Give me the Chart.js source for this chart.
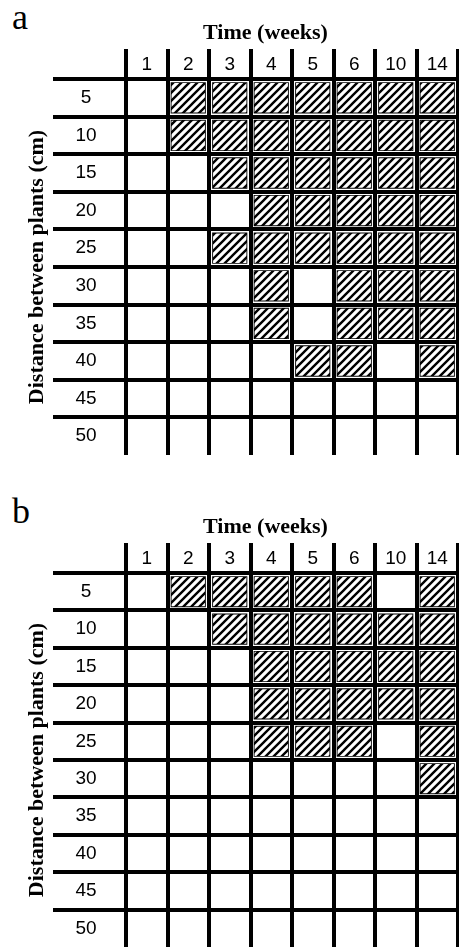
<!DOCTYPE html>
<html>
<head>
<meta charset="utf-8">
<script src="https://cdn.jsdelivr.net/npm/chart.js@4.4.1/dist/chart.umd.min.js"></script>
<style>
  body { margin: 0; background: #fff; }
  canvas { position: absolute; left: 0; }
  .panel { position: absolute; left: 12px; font: 36px/36px "Liberation Serif", serif; color: #000; }
</style>
</head>
<body>
<div class="panel" style="top:-1px">a</div>
<canvas id="chartA" width="459" height="455" style="top:0"></canvas>
<div class="panel" style="top:493px">b</div>
<canvas id="chartB" width="459" height="453" style="top:494px"></canvas>
<script>
const weeks = ["1", "2", "3", "4", "5", "6", "10", "14"];
const distances = ["5", "10", "15", "20", "25", "30", "35", "40", "45", "50"];

// one row per distance, one flag per week (1 = hatched cell)
const cellsA = [
    [0, 1, 1, 1, 1, 1, 1, 1],
    [0, 1, 1, 1, 1, 1, 1, 1],
    [0, 0, 1, 1, 1, 1, 1, 1],
    [0, 0, 0, 1, 1, 1, 1, 1],
    [0, 0, 1, 1, 1, 1, 1, 1],
    [0, 0, 0, 1, 0, 1, 1, 1],
    [0, 0, 0, 1, 0, 1, 1, 1],
    [0, 0, 0, 0, 1, 1, 0, 1],
    [0, 0, 0, 0, 0, 0, 0, 0],
    [0, 0, 0, 0, 0, 0, 0, 0]
];
const cellsB = [
    [0, 1, 1, 1, 1, 1, 0, 1],
    [0, 0, 1, 1, 1, 1, 1, 1],
    [0, 0, 0, 1, 1, 1, 1, 1],
    [0, 0, 0, 1, 1, 1, 1, 1],
    [0, 0, 0, 1, 1, 1, 0, 1],
    [0, 0, 0, 0, 0, 0, 0, 1],
    [0, 0, 0, 0, 0, 0, 0, 0],
    [0, 0, 0, 0, 0, 0, 0, 0],
    [0, 0, 0, 0, 0, 0, 0, 0],
    [0, 0, 0, 0, 0, 0, 0, 0]
];

const xTitle = "Time (weeks)";
const yTitle = "Distance between plants (cm)";

Chart.defaults.font.family = "'Liberation Sans', Arial, sans-serif";
Chart.defaults.color = "#000";

function makeHatch(ctx) {
    const n = 8;
    const tile = document.createElement("canvas");
    tile.width = n;
    tile.height = n;
    const g = tile.getContext("2d");
    g.fillStyle = "#fff";
    g.fillRect(0, 0, n, n);
    g.strokeStyle = "#000";
    g.lineWidth = 2.4;
    g.beginPath();
    g.moveTo(-1, n + 1); g.lineTo(n + 1, -1);
    g.moveTo(-1, 1); g.lineTo(1, -1);
    g.moveTo(n - 1, n + 1); g.lineTo(n + 1, n - 1);
    g.stroke();
    return ctx.createPattern(tile, "repeat");
}

function drawTable(id, cells) {
    const ctx = document.getElementById(id).getContext("2d");
    const hatch = makeHatch(ctx);

    const datasets = [];
    cells.forEach((row, i) => {
        const spans = row.map(v => v ? [i, i + 1] : null);
        // thin black frame inside a white margin
        datasets.push({
            data: spans,
            yAxisID: "yv",
            backgroundColor: "#000",
            borderColor: "#fff",
            borderWidth: 3.5,
            borderSkipped: false,
            grouped: false,
            barPercentage: 1,
            categoryPercentage: 1,
            order: 2
        });
        // hatching
        datasets.push({
            data: spans,
            yAxisID: "yv",
            backgroundColor: hatch,
            borderColor: "rgba(0,0,0,0)",
            borderWidth: 4.4,
            borderSkipped: false,
            grouped: false,
            barPercentage: 1,
            categoryPercentage: 1,
            order: 1
        });
    });

    new Chart(ctx, {
        type: "bar",
        data: { labels: weeks, datasets: datasets },
        options: {
            responsive: false,
            animation: false,
            layout: { padding: { left: 73, right: 1, top: 20, bottom: 0 } },
            plugins: {
                legend: { display: false },
                tooltip: { enabled: false },
                title: {
                    display: true,
                    text: xTitle,
                    font: { family: "'Liberation Serif', serif", size: 22, weight: "bold", lineHeight: 1.2 },
                    padding: 0
                }
            },
            scales: {
                x: {
                    type: "category",
                    position: "top",
                    offset: true,
                    grid: { offset: true, color: "#000", lineWidth: 4, tickLength: 30, z: 1 },
                    border: { display: false },
                    ticks: { font: { size: 19 }, padding: -27.4, maxRotation: 0 },
                    afterFit: s => { s.height = 32.6; }
                },
                y: {
                    type: "category",
                    labels: distances,
                    offset: true,
                    grid: {
                        offset: true,
                        lineWidth: 4,
                        tickLength: 73,
                        z: 1,
                        color: c => c.type === "tick" ? "#000" : "rgba(0,0,0,0)"
                    },
                    border: { display: false },
                    ticks: { font: { size: 19 }, padding: -43.6, crossAlign: "center" },
                    title: {
                        display: true,
                        text: yTitle,
                        font: { family: "'Liberation Serif', serif", size: 22, weight: "bold", lineHeight: 1.2 },
                        padding: { top: -49.2, bottom: 0 }
                    },
                    afterFit: s => { s.width = 53; }
                },
                yv: {
                    type: "linear",
                    display: false,
                    min: 0,
                    max: distances.length,
                    reverse: true
                }
            }
        }
    });
}

drawTable("chartA", cellsA);
drawTable("chartB", cellsB);
</script>
</body>
</html>
